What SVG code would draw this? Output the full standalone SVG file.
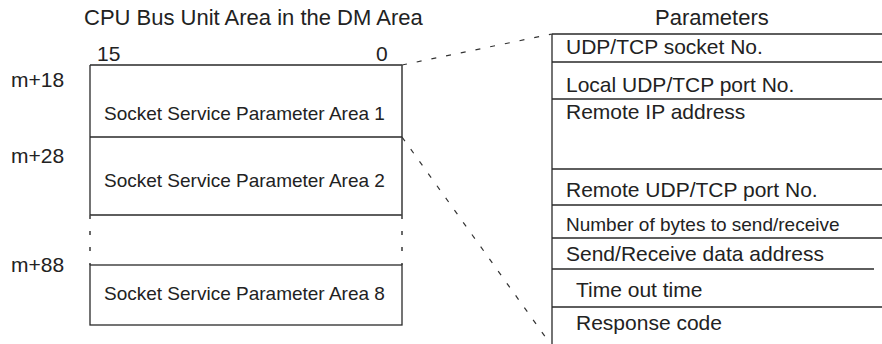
<svg xmlns="http://www.w3.org/2000/svg" width="882" height="344" viewBox="0 0 882 344">
<style>
text{font-family:"Liberation Sans",Arial,sans-serif;fill:#222}
.t{font-size:22px}
.l{font-size:21px}
.s{font-size:19px}
.p{font-size:21px}
.ln{stroke:#2a2a2a;stroke-width:1.3;fill:none}
.v{stroke:#444;stroke-width:1.6;fill:none}
.d{stroke:#333;stroke-width:1.2;fill:none;stroke-dasharray:5 10}
.sd{stroke:#444;stroke-width:1.6;fill:none;stroke-dasharray:4 12}
</style>
<rect width="882" height="344" fill="#fff"/>
<g id="titles">
<text class="t" x="84" y="25">CPU Bus Unit Area in the DM Area</text>
<text class="t" x="655" y="25">Parameters</text>
</g>
<g id="bits">
<text class="l" x="97" y="61">15</text>
<text class="l" x="376" y="61">0</text>
</g>
<g id="addresses">
<text class="l" x="11" y="87">m+18</text>
<text class="l" x="11" y="163">m+28</text>
<text class="l" x="11" y="272">m+88</text>
</g>
<g id="area1">
<path class="ln" d="M90,65H402M90,65V137"/>
<path class="v" d="M402,65V137"/>
<text class="s" x="104" y="120">Socket Service Parameter Area 1</text>
</g>
<g id="area2">
<path class="ln" d="M90,137H402M90,137V215M90,215H402"/>
<path class="v" d="M402,137V215"/>
<text class="s" x="104" y="187">Socket Service Parameter Area 2</text>
</g>
<g id="gap">
<path class="sd" d="M90,215V265M402,215V265"/>
</g>
<g id="area8">
<rect class="ln" x="90" y="265" width="312" height="60"/>
<text class="s" x="104" y="300">Socket Service Parameter Area 8</text>
</g>
<g id="parameters">
<path class="ln" d="M552,34V344M552,34H882M552,62H882M552,99H882M552,169H882M552,205H882M552,238H882M552,269H874M552,307H882"/>
<text class="p" x="566" y="54">UDP/TCP socket No.</text>
<text class="p" x="566" y="92">Local UDP/TCP port No.</text>
<text class="p" x="566" y="119">Remote IP address</text>
<text class="p" x="566" y="197">Remote UDP/TCP port No.</text>
<text class="s" x="566" y="231">Number of bytes to send/receive</text>
<text class="p" x="566" y="261">Send/Receive data address</text>
<text class="p" x="576" y="297">Time out time</text>
<text class="p" x="576" y="330">Response code</text>
</g>
<g id="connectors">
<path class="d" d="M402,65L552,34"/>
<path class="d" d="M402,137L549,342"/>
</g>
</svg>
